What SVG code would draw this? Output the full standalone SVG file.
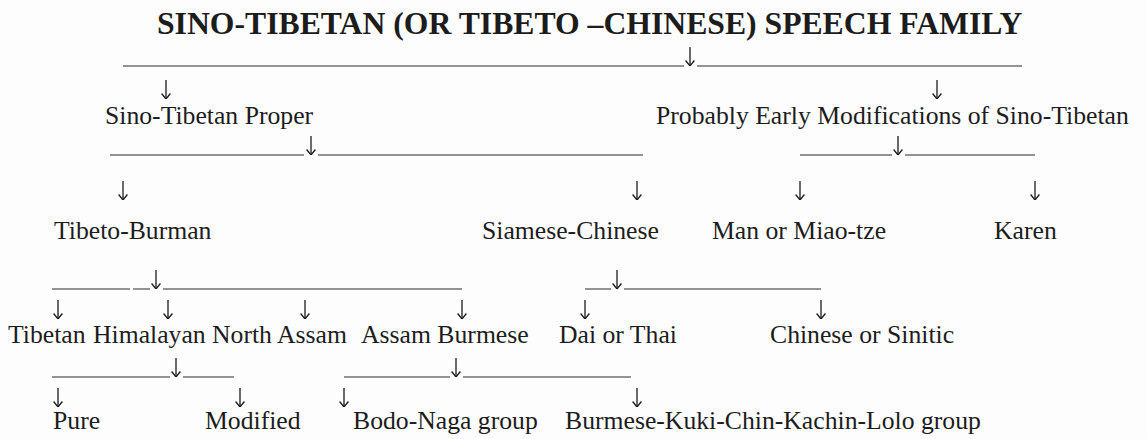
<svg xmlns="http://www.w3.org/2000/svg" width="1147" height="439" viewBox="0 0 1147 439">
<style>
.t{font-family:"Liberation Serif","Times New Roman",serif;font-size:25.7px;fill:#1c1c1c}
.title{font-family:"Liberation Serif","Times New Roman",serif;font-size:31.7px;font-weight:bold;fill:#1c1c1c}
.ln{stroke:#2a2a2a;stroke-width:1.2;fill:none}
.ar{stroke:#1c1c1c;stroke-width:1.3;fill:none;marker-end:url(#ah)}
</style>
<defs>
<marker id="ah" viewBox="0 0 10 10" refX="10" refY="5" markerWidth="10" markerHeight="10" markerUnits="userSpaceOnUse" orient="auto">
<path d="M4.5,0.6 L10,5 L4.5,9.4" fill="none" stroke="#1c1c1c" stroke-width="1.3"/>
</marker>
</defs>
<rect width="1147" height="439" fill="#fdfdfd"/>

<g id="connectors">
<path class="ln" d="M123,66 H684 M697,66 H1022"/>
<path class="ar" d="M690,47 V66"/>
<path class="ar" d="M166,80 V99"/>
<path class="ar" d="M937,80 V99"/>

<path class="ln" d="M110,155 H304 M318,155 H643"/>
<path class="ar" d="M311,136 V155"/>
<path class="ln" d="M800,155 H892 M905,155 H1035"/>
<path class="ar" d="M898,136 V155"/>
<path class="ar" d="M123,181 V200"/>
<path class="ar" d="M637,181 V200"/>
<path class="ar" d="M800,181 V200"/>
<path class="ar" d="M1035,181 V200"/>

<path class="ln" d="M52,289 H130 M133,289 H150 M163,289 H462"/>
<path class="ar" d="M156,270 V289"/>
<path class="ln" d="M585,289 H611 M624,289 H821"/>
<path class="ar" d="M617,270 V289"/>
<path class="ar" d="M58,300 V319"/>
<path class="ar" d="M168,300 V319"/>
<path class="ar" d="M305,300 V319"/>
<path class="ar" d="M462,300 V319"/>
<path class="ar" d="M585,300 V319"/>
<path class="ar" d="M821,300 V319"/>

<path class="ln" d="M52,377 H170 M183,377 H234"/>
<path class="ar" d="M176,358 V377"/>
<path class="ln" d="M344,377 H450 M463,377 H631"/>
<path class="ar" d="M456,358 V377"/>
<path class="ar" d="M58,388 V407"/>
<path class="ar" d="M240,388 V407"/>
<path class="ar" d="M344,388 V407"/>
<path class="ar" d="M637,388 V407"/>
</g>

<g id="root"><text class="title" x="157" y="34">SINO-TIBETAN (OR TIBETO –CHINESE) SPEECH FAMILY</text></g>

<g id="sino-tibetan-proper"><text class="t" x="105" y="124">Sino-Tibetan Proper</text></g>
<g id="early-modifications"><text class="t" x="656" y="124">Probably Early Modifications of Sino-Tibetan</text></g>

<g id="tibeto-burman"><text class="t" x="54" y="239">Tibeto-Burman</text></g>
<g id="siamese-chinese"><text class="t" x="482" y="239">Siamese-Chinese</text></g>
<g id="man-miao-tze"><text class="t" x="712" y="239">Man or Miao-tze</text></g>
<g id="karen"><text class="t" x="994" y="239">Karen</text></g>

<g id="tibetan"><text class="t" x="8" y="343">Tibetan</text></g>
<g id="himalayan"><text class="t" x="93" y="343">Himalayan</text></g>
<g id="north-assam"><text class="t" x="212" y="343">North Assam</text></g>
<g id="assam-burmese"><text class="t" x="361" y="343">Assam Burmese</text></g>
<g id="dai-thai"><text class="t" x="559" y="343">Dai or Thai</text></g>
<g id="chinese-sinitic"><text class="t" x="770" y="343">Chinese or Sinitic</text></g>

<g id="pure"><text class="t" x="53" y="429">Pure</text></g>
<g id="modified"><text class="t" x="205" y="429">Modified</text></g>
<g id="bodo-naga"><text class="t" x="353" y="429">Bodo-Naga group</text></g>
<g id="burmese-kuki"><text class="t" x="565" y="429">Burmese-Kuki-Chin-Kachin-Lolo group</text></g>
</svg>
